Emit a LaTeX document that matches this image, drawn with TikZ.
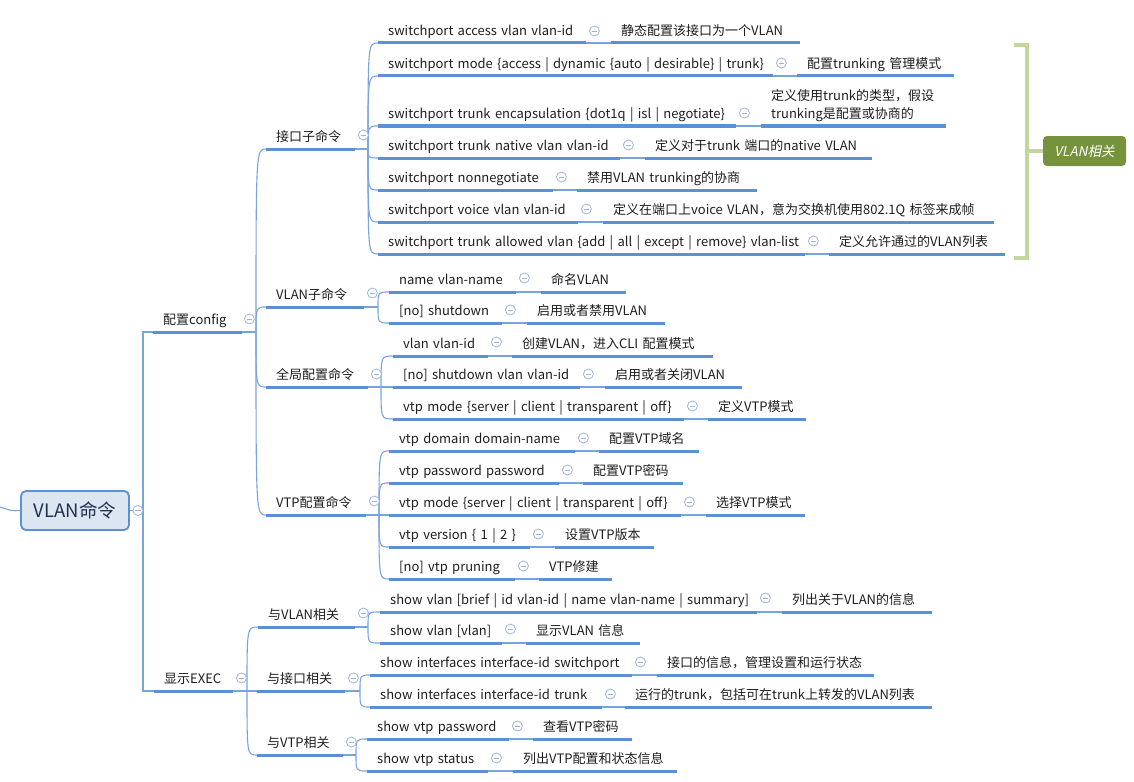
\documentclass[tikz,border=0pt]{standalone}
\usepackage{fontspec}
\setmainfont{Noto Sans CJK SC}
\newfontfamily\tagfont{Noto Sans CJK SC}[FakeSlant=0.2]
\definecolor{lineblue}{HTML}{5B8FD6}
\definecolor{linkblue}{HTML}{7AA3DC}
\definecolor{foldblue}{HTML}{9DB5DE}
\definecolor{rootfill}{HTML}{DCE6F2}
\definecolor{rootink}{HTML}{203050}
\definecolor{bracegreen}{HTML}{C3D69B}
\definecolor{tagolive}{HTML}{76923C}
\definecolor{ink}{HTML}{1E1E1E}
\tikzset{
	uline/.style={draw=lineblue, line width=3pt},
	link/.style={draw=linkblue, line width=1.1pt},
	under/.style={anchor=south west, inner xsep=10pt, inner ysep=4.5pt, text height=10pt, text depth=3pt, align=left, text=ink, font=\fontsize{13pt}{18pt}\selectfont, append after command={(\tikzlastnode.south west) edge[uline] (\tikzlastnode.south east)}},
	topic/.style={under, execute at begin node={\hbox\bgroup}, execute at end node={\egroup}},
	branch/.style={to path={.. controls (\tikztostart |- \tikztotarget) .. (\tikztotarget)}},
	fold/.style={circle, draw=foldblue, fill=white, line width=0.8pt, minimum size=10pt, inner sep=0pt, path picture={\draw[foldblue, line width=0.8pt] ([xshift=-2.6pt]path picture bounding box.center) -- ([xshift=2.6pt]path picture bounding box.center);}},
	root/.style={draw=lineblue, line width=1.8pt, fill=rootfill, rounded corners=5pt, minimum width=108pt, minimum height=39pt, text=rootink, font=\fontsize{18.5pt}{20pt}\selectfont},
	tag/.style={fill=tagolive, rounded corners=4pt, minimum width=83pt, minimum height=30pt, text=white, font=\tagfont\fontsize{13.5pt}{16pt}\selectfont},
	brace/.style={draw=bracegreen, line width=3.5pt},
}
\begin{document}
\begin{tikzpicture}[x=1pt, y=-1pt]
	\useasboundingbox (0,0) rectangle (1134,781);
	
	% root and first level
	\node[root] (vlancmd) at (75,510.5) {VLAN命令};
	\node[topic, text width=69pt] (config) at (153,332) {配置config};
	\node[topic, text width=59pt] (showexec) at (154,691) {显示EXEC};
	
	% second level
	\node[topic, text width=69pt] (port) at (266,149) {接口子命令};
	\node[topic, text width=78pt] (vlansub) at (266,307) {VLAN子命令};
	\node[topic, text width=82pt] (global) at (266,387) {全局配置命令};
	\node[topic, text width=80pt] (vtpcfg) at (266,515) {VTP配置命令};
	\node[topic, text width=77pt] (shvlan) at (258,627) {与VLAN相关};
	\node[topic, text width=68pt] (shif) at (257,691) {与接口相关};
	\node[topic, text width=66pt] (shvtp) at (257,755) {与VTP相关};
	
	% interface commands
	\node[topic, text width=188pt] (p1) at (378,43) {switchport access vlan vlan-id};
	\node[topic, text width=169pt] (p1d) at (611,43) {静态配置该接口为一个VLAN};
	\node[topic, text width=375pt] (p2) at (378,76) {switchport mode \{access | dynamic \{auto | desirable\} | trunk\}};
	\node[topic, text width=137pt] (p2d) at (797,76) {配置trunking 管理模式};
	\node[topic, text width=338pt] (p3) at (378,126) {switchport trunk encapsulation \{dot1q | isl | negotiate\}};
	\node[under, text width=165pt, text depth=21pt] (p3d) at (761,126) {定义使用trunk的类型，假设\\trunking是配置或协商的};
	\node[topic, text width=222pt] (p4) at (378,158) {switchport trunk native vlan vlan-id};
	\node[topic, text width=207pt] (p4d) at (645,158) {定义对于trunk 端口的native VLAN};
	\node[topic, text width=155pt] (p5) at (378,190) {switchport nonnegotiate};
	\node[topic, text width=160pt] (p5d) at (577,190) {禁用VLAN trunking的协商};
	\node[topic, text width=180pt] (p6) at (378,222) {switchport voice vlan vlan-id};
	\node[topic, text width=371pt] (p6d) at (603,222) {定义在端口上voice VLAN，意为交换机使用802.1Q 标签来成帧};
	\node[topic, text width=407pt] (p7) at (378,254) {switchport trunk allowed vlan \{add | all | except | remove\} vlan-list};
	\node[topic, text width=156pt] (p7d) at (829,254) {定义允许通过的VLAN列表};
	
	% vlan sub commands
	\node[topic, text width=107pt] (v1) at (389,292) {name vlan-name};
	\node[topic, text width=65pt] (v1d) at (541,292) {命名VLAN};
	\node[topic, text width=93pt] (v2) at (389,323) {[no] shutdown};
	\node[topic, text width=118pt] (v2d) at (527,323) {启用或者禁用VLAN};
	
	% global commands
	\node[topic, text width=75pt] (g1) at (393,356) {vlan vlan-id};
	\node[topic, text width=181pt] (g1d) at (512,356) {创建VLAN，进入CLI 配置模式};
	\node[topic, text width=167pt] (g2) at (393,387) {[no] shutdown vlan vlan-id};
	\node[topic, text width=117pt] (g2d) at (605,387) {启用或者关闭VLAN};
	\node[topic, text width=271pt] (g3) at (393,419) {vtp mode \{server | client | transparent | off\}};
	\node[topic, text width=78pt] (g3d) at (708,419) {定义VTP模式};
	
	% vtp commands
	\node[topic, text width=166pt] (t1) at (389,451) {vtp domain domain-name};
	\node[topic, text width=80pt] (t1d) at (599,451) {配置VTP域名};
	\node[topic, text width=150pt] (t2) at (389,483) {vtp password password};
	\node[topic, text width=80pt] (t2d) at (583,483) {配置VTP密码};
	\node[topic, text width=272pt] (t3) at (389,515) {vtp mode \{server | client | transparent | off\}};
	\node[topic, text width=79pt] (t3d) at (706,515) {选择VTP模式};
	\node[topic, text width=121pt] (t4) at (389,547) {vtp version \{ 1 | 2 \}};
	\node[topic, text width=79pt] (t4d) at (555,547) {设置VTP版本};
	\node[topic, text width=106pt] (t5) at (389,579) {[no] vtp pruning};
	\node[topic, text width=53pt] (t5d) at (539,579) {VTP修建};
	
	% show commands
	\node[topic, text width=357pt] (s1) at (380,612) {show vlan [brief | id vlan-id | name vlan-name | summary]};
	\node[topic, text width=130pt] (s1d) at (782,612) {列出关于VLAN的信息};
	\node[topic, text width=102pt] (s2) at (380,643) {show vlan [vlan]};
	\node[topic, text width=94pt] (s2d) at (526,643) {显示VLAN 信息};
	\node[topic, text width=242pt] (i1) at (370,675) {show interfaces interface-id switchport};
	\node[topic, text width=197pt] (i1d) at (657,675) {接口的信息，管理设置和运行状态};
	\node[topic, text width=212pt] (i2) at (370,707) {show interfaces interface-id trunk};
	\node[topic, text width=287pt] (i2d) at (625,707) {运行的trunk，包括可在trunk上转发的VLAN列表};
	\node[topic, text width=122pt] (r1) at (367,739) {show vtp password};
	\node[topic, text width=79pt] (r1d) at (533,739) {查看VTP密码};
	\node[topic, text width=101pt] (r2) at (367,771) {show vtp status};
	\node[topic, text width=144pt] (r2d) at (513,771) {列出VTP配置和状态信息};
	
	% junctions
	\coordinate (stub) at (0,507);
	\coordinate (j-root) at (143,511);
	\coordinate (j-config) at (256,332);
	\coordinate (j-showexec) at (247,691);
	\coordinate (j-port) at (368,149);
	\coordinate (j-vlansub) at (378,307);
	\coordinate (j-global) at (381,387);
	\coordinate (j-vtpcfg) at (379,515);
	\coordinate (j-shvlan) at (368,627);
	\coordinate (j-shif) at (360,691);
	\coordinate (j-shvtp) at (356,755);
	
	% connectors
	\draw[link] (stub) .. controls (12,511) .. (vlancmd.west);
	\draw[link] (vlancmd.east) -- (j-root);
	\draw[link] (j-root) |- (config.south west);
	\draw[link] (j-root) |- (showexec.south west);
	
	\draw[link] (config.south east) -- (j-config);
	\draw[link] (j-config) to[branch] (port.south west);
	\draw[link] (j-config) to[branch] (vlansub.south west);
	\draw[link] (j-config) to[branch] (global.south west);
	\draw[link] (j-config) to[branch] (vtpcfg.south west);
	
	\draw[link] (showexec.south east) -- (j-showexec);
	\draw[link] (j-showexec) to[branch] (shvlan.south west);
	\draw[link] (j-showexec) to[branch] (shif.south west);
	\draw[link] (j-showexec) to[branch] (shvtp.south west);
	
	\draw[link] (port.south east) -- (j-port);
	\draw[link] (j-port) to[branch] (p1.south west);
	\draw[link] (j-port) to[branch] (p2.south west);
	\draw[link] (j-port) to[branch] (p3.south west);
	\draw[link] (j-port) to[branch] (p4.south west);
	\draw[link] (j-port) to[branch] (p5.south west);
	\draw[link] (j-port) to[branch] (p6.south west);
	\draw[link] (j-port) to[branch] (p7.south west);
	
	\draw[link] (vlansub.south east) -- (j-vlansub);
	\draw[link] (j-vlansub) to[branch] (v1.south west);
	\draw[link] (j-vlansub) to[branch] (v2.south west);
	
	\draw[link] (global.south east) -- (j-global);
	\draw[link] (j-global) to[branch] (g1.south west);
	\draw[link] (j-global) to[branch] (g2.south west);
	\draw[link] (j-global) to[branch] (g3.south west);
	
	\draw[link] (vtpcfg.south east) -- (j-vtpcfg);
	\draw[link] (j-vtpcfg) to[branch] (t1.south west);
	\draw[link] (j-vtpcfg) to[branch] (t2.south west);
	\draw[link] (j-vtpcfg) to[branch] (t3.south west);
	\draw[link] (j-vtpcfg) to[branch] (t4.south west);
	\draw[link] (j-vtpcfg) to[branch] (t5.south west);
	
	\draw[link] (shvlan.south east) -- (j-shvlan);
	\draw[link] (j-shvlan) to[branch] (s1.south west);
	\draw[link] (j-shvlan) to[branch] (s2.south west);
	\draw[link] (shif.south east) -- (j-shif);
	\draw[link] (j-shif) to[branch] (i1.south west);
	\draw[link] (j-shif) to[branch] (i2.south west);
	\draw[link] (shvtp.south east) -- (j-shvtp);
	\draw[link] (j-shvtp) to[branch] (r1.south west);
	\draw[link] (j-shvtp) to[branch] (r2.south west);
	
	\draw[link] (p1.south east) -- (p1d.south west);
	\draw[link] (p2.south east) -- (p2d.south west);
	\draw[link] (p3.south east) -- (p3d.south west);
	\draw[link] (p4.south east) -- (p4d.south west);
	\draw[link] (p5.south east) -- (p5d.south west);
	\draw[link] (p6.south east) -- (p6d.south west);
	\draw[link] (p7.south east) -- (p7d.south west);
	\draw[link] (v1.south east) -- (v1d.south west);
	\draw[link] (v2.south east) -- (v2d.south west);
	\draw[link] (g1.south east) -- (g1d.south west);
	\draw[link] (g2.south east) -- (g2d.south west);
	\draw[link] (g3.south east) -- (g3d.south west);
	\draw[link] (t1.south east) -- (t1d.south west);
	\draw[link] (t2.south east) -- (t2d.south west);
	\draw[link] (t3.south east) -- (t3d.south west);
	\draw[link] (t4.south east) -- (t4d.south west);
	\draw[link] (t5.south east) -- (t5d.south west);
	\draw[link] (s1.south east) -- (s1d.south west);
	\draw[link] (s2.south east) -- (s2d.south west);
	\draw[link] (i1.south east) -- (i1d.south west);
	\draw[link] (i2.south east) -- (i2d.south west);
	\draw[link] (r1.south east) -- (r1d.south west);
	\draw[link] (r2.south east) -- (r2d.south west);
	
	% collapse marks
	\node[fold] (f-root) at ([xshift=8pt]vlancmd.east) {};
	\node[fold] (f-config) at ([xshift=7pt,yshift=13pt]config.south east) {};
	\node[fold] (f-showexec) at ([xshift=8pt,yshift=13pt]showexec.south east) {};
	\node[fold] (f-port) at ([xshift=8pt,yshift=14pt]port.south east) {};
	\node[fold] (f-vlansub) at ([xshift=8pt,yshift=14pt]vlansub.south east) {};
	\node[fold] (f-global) at ([xshift=8pt,yshift=13pt]global.south east) {};
	\node[fold] (f-vtpcfg) at ([xshift=8pt,yshift=14pt]vtpcfg.south east) {};
	\node[fold] (f-shvlan) at ([xshift=8pt,yshift=14pt]shvlan.south east) {};
	\node[fold] (f-shif) at ([xshift=8pt,yshift=13pt]shif.south east) {};
	\node[fold] (f-shvtp) at ([xshift=8pt,yshift=13pt]shvtp.south east) {};
	\node[fold] (f-p1) at ([xshift=8pt,yshift=12pt]p1.south east) {};
	\node[fold] (f-p2) at ([xshift=8pt,yshift=13pt]p2.south east) {};
	\node[fold] (f-p3) at ([xshift=8pt,yshift=13pt]p3.south east) {};
	\node[fold] (f-p4) at ([xshift=8pt,yshift=13pt]p4.south east) {};
	\node[fold] (f-p5) at ([xshift=8pt,yshift=13pt]p5.south east) {};
	\node[fold] (f-p6) at ([xshift=8pt,yshift=13pt]p6.south east) {};
	\node[fold] (f-p7) at ([xshift=8pt,yshift=13pt]p7.south east) {};
	\node[fold] (f-v1) at ([xshift=8pt,yshift=14pt]v1.south east) {};
	\node[fold] (f-v2) at ([xshift=8pt,yshift=13pt]v2.south east) {};
	\node[fold] (f-g1) at ([xshift=8pt,yshift=14pt]g1.south east) {};
	\node[fold] (f-g2) at ([xshift=8pt,yshift=13pt]g2.south east) {};
	\node[fold] (f-g3) at ([xshift=8pt,yshift=13pt]g3.south east) {};
	\node[fold] (f-t1) at ([xshift=8pt,yshift=13pt]t1.south east) {};
	\node[fold] (f-t2) at ([xshift=8pt,yshift=13pt]t2.south east) {};
	\node[fold] (f-t3) at ([xshift=8pt,yshift=13pt]t3.south east) {};
	\node[fold] (f-t4) at ([xshift=8pt,yshift=13pt]t4.south east) {};
	\node[fold] (f-t5) at ([xshift=8pt,yshift=13pt]t5.south east) {};
	\node[fold] (f-s1) at ([xshift=8pt,yshift=14pt]s1.south east) {};
	\node[fold] (f-s2) at ([xshift=8pt,yshift=14pt]s2.south east) {};
	\node[fold] (f-i1) at ([xshift=8pt,yshift=13pt]i1.south east) {};
	\node[fold] (f-i2) at ([xshift=8pt,yshift=13pt]i2.south east) {};
	\node[fold] (f-r1) at ([xshift=8pt,yshift=13pt]r1.south east) {};
	\node[fold] (f-r2) at ([xshift=8pt,yshift=13pt]r2.south east) {};
	
	% summary bracket
	\node[tag] (vlanrel) at (1084.5,151) {VLAN相关};
	\draw[brace] (1014,45) -- (1027,45) -- (1027,258) -- (1014,258);
	\draw[brace] (1027,151) -- (vlanrel.west);
	
\end{tikzpicture}
\end{document}
